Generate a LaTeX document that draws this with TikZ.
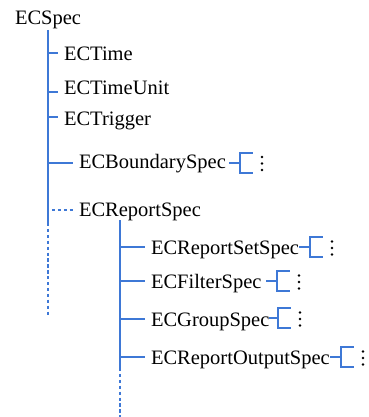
\documentclass[tikz,border=0pt]{standalone}
\usepackage{fontspec}
\setmainfont{Liberation Serif}
\definecolor{treeblue}{RGB}{62,120,214}
\begin{document}
\begin{tikzpicture}[x=1pt,y=-1pt,
  lbl/.style={anchor=base west,inner sep=0pt,outer sep=0pt,font=\fontsize{20.5}{24}\selectfont},
  branch/.style={draw=treeblue,line width=2pt},
  dotbranch/.style={draw=treeblue,line width=2pt,dash pattern=on 3.3pt off 2.6pt},
  stub/.pic={
    \draw[branch] (12.5,-10) -- (0,-10) -- (0,10) -- (12.5,10);
    \fill (22,-5.5) circle (1.3pt) (22,1) circle (1.3pt) (22,7.5) circle (1.3pt);
  }]
\useasboundingbox (0,0) rectangle (368,417);

% labels
\node[lbl] (spec)     at (15,25)    {ECSpec};
\node[lbl] (time)     at (64,61)    {ECTime};
\node[lbl] (unit)     at (64,94.5)  {ECTimeUnit};
\node[lbl] (trig)     at (64,125)   {ECTrigger};
\node[lbl] (bound)    at (79,168.5) {ECBoundarySpec};
\node[lbl] (report)   at (79,216.5) {ECReportSpec};
\node[lbl] (setspec)  at (151,254)  {ECReportSetSpec};
\node[lbl] (filter)   at (151,288)  {ECFilterSpec};
\node[lbl] (group)    at (151,326.5){ECGroupSpec};
\node[lbl] (output)   at (151,364)  {ECReportOutputSpec};

% main trunk under ECSpec
\coordinate (m0) at (48,30);
\coordinate (m1) at (48,223);
\coordinate (m2) at (48,317);
\draw[branch] (m0) -- (m1);
\draw[dotbranch] (m1) -- (m2);

% branches of the main trunk
\coordinate (tA) at (48,53);
\coordinate (tB) at (48,92);
\coordinate (tC) at (48,117);
\coordinate (tD) at (48,162.5);
\coordinate (tE) at (52,210);
\draw[branch] (tA) -- ([xshift=-6pt]tA -| time.west);
\draw[branch] (tB) -- ([xshift=-6pt]tB -| unit.west);
\draw[branch] (tC) -- ([xshift=-6pt]tC -| trig.west);
\draw[branch] (tD) -- ([xshift=-6pt]tD -| bound.west);
\draw[dotbranch] (tE) -- ([xshift=-6pt]tE -| report.west);

% sub trunk under ECReportSpec
\coordinate (s0) at (120,220);
\coordinate (s1) at (120,368);
\coordinate (s2) at (120,417);
\draw[branch] (s0) -- (s1);
\draw[dotbranch] (s1) -- (s2);

\coordinate (uA) at (120,247);
\coordinate (uB) at (120,281);
\coordinate (uC) at (120,319);
\coordinate (uD) at (120,357);
\draw[branch] (uA) -- ([xshift=-6pt]uA -| setspec.west);
\draw[branch] (uB) -- ([xshift=-6pt]uB -| filter.west);
\draw[branch] (uC) -- ([xshift=-6pt]uC -| group.west);
\draw[branch] (uD) -- ([xshift=-6pt]uD -| output.west);

% collapsed sub-structures
\coordinate (bA) at (240,162.5);
\coordinate (bB) at (310,247);
\coordinate (bC) at (277,281);
\coordinate (bD) at (278,318);
\coordinate (bE) at (341,357);
\pic at (bA) {stub};
\pic at (bB) {stub};
\pic at (bC) {stub};
\pic at (bD) {stub};
\pic at (bE) {stub};
\draw[branch,shorten <=3pt] (bA -| bound.east) -- (bA);
\draw[branch] (bB -| setspec.east) -- (bB);
\draw[branch,shorten <=5pt] (bC -| filter.east) -- (bC);
\draw[branch] (bD -| group.east) -- (bD);
\draw[branch] (bE -| output.east) -- (bE);
\end{tikzpicture}
\end{document}
